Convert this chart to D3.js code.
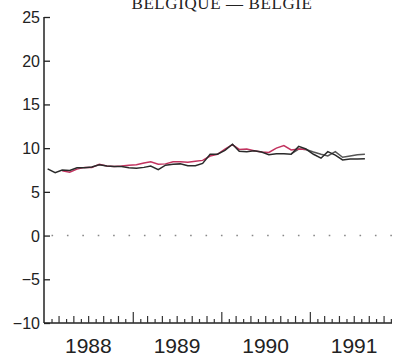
<!DOCTYPE html>
<html><head><meta charset="utf-8">
<script src="https://cdn.jsdelivr.net/npm/d3@7"></script>
<style>body{margin:0;background:#fff}svg{display:block}</style>
</head><body>
<svg id="c" width="398" height="358"></svg>
<script>
const title = "BELGIQUE — BELGIE";
const startYear = 1988, startMonth = 0;
const blackValues = [7.63,7.2,7.5,7.45,7.75,7.75,7.85,8.1,7.95,7.9,7.9,7.75,7.7,7.8,7.95,7.55,8.05,8.15,8.2,8.0,8.0,8.25,9.3,9.3,9.75,10.45,9.65,9.6,9.7,9.55,9.25,9.35,9.35,9.3,10.2,9.9,9.3,8.85,9.6,9.2,8.65,8.75,8.75,8.8];
const redStart = 2;
const redValues = [7.4,7.25,7.6,7.8,7.8,8.15,7.95,7.9,7.95,8.05,8.1,8.3,8.45,8.15,8.2,8.45,8.45,8.4,8.5,8.6,9.1,9.3,9.9,10.4,9.85,9.9,9.7,9.55,9.5,10.0,10.3,9.8,9.9,9.85];
const grayStart = 33;
const grayValues = [9.35,9.9,9.85,9.55,9.3,9.1,9.6,8.95,9.1,9.25,9.3];
const yTicks = [25,20,15,10,5,0,-5,-10];
const yearLabels = [1988,1989,1990,1991];

const svg = d3.select("#c");
const x = d3.scaleTime().domain([new Date(1988,0,1), new Date(1991,11,1)]).range([44, 44+47*7.38]);
const y = d3.scaleLinear().domain([-10,25]).range([323,17]);
const mid = i => new Date(startYear, startMonth+i, 16);

svg.append("text").attr("x",222).attr("y",9).attr("text-anchor","middle")
  .attr("font-family","Liberation Serif").attr("font-size",17).attr("letter-spacing",0.6)
  .attr("fill","#222").text(title);

// zero line dotted
svg.append("line").attr("x1",x(new Date(1988,1,1))).attr("x2",394).attr("y1",y(0)).attr("y2",y(0))
  .attr("stroke","#888").attr("stroke-width",1.6).attr("stroke-dasharray","1.6,13.8");

// y axis
const ya = svg.append("g").attr("transform","translate(44,0)")
  .call(d3.axisRight(y).tickValues(yTicks).tickSize(6).tickFormat(""));
ya.select(".domain").attr("stroke","#222").attr("stroke-width",1.5).attr("d","M0,17V323");
ya.selectAll(".tick line").attr("stroke","#222").attr("stroke-width",1.3);
svg.append("g").selectAll("text").data(yTicks).join("text")
  .attr("x",40).attr("y",d=>y(d)+6).attr("text-anchor","end")
  .attr("font-family","Liberation Sans").attr("font-size",16).attr("fill","#222")
  .text(d=>d<0?"\u2212"+(-d):d);

// x axis
const months = d3.timeMonth.range(new Date(1988,1,1), new Date(1992,0,1));
const xa = svg.append("g").attr("transform","translate(0,323)")
  .call(d3.axisTop(x).tickValues(months).tickFormat("").tickSizeOuter(0));
xa.select(".domain").attr("stroke","#222").attr("stroke-width",1.5).attr("d","M44,0H392");
xa.selectAll(".tick line").attr("stroke","#333").attr("stroke-width",1.2)
  .attr("y2",d=>d.getMonth()===0?-11:(d.getMonth()%2===0?-7:-4));
svg.append("g").selectAll("text").data(yearLabels).join("text")
  .attr("x",d=>(x(new Date(d,0,1))+x(new Date(d+1,0,1)))/2).attr("y",353)
  .attr("text-anchor","middle").attr("font-family","Liberation Sans").attr("font-size",21)
  .attr("fill","#222").text(d=>d);

const line = d3.line().x(d=>x(d[0])).y(d=>y(d[1])).curve(d3.curveLinear);
const blackData = blackValues.map((v,i)=>[mid(i),v]);
const redData = redValues.map((v,i)=>[mid(i+redStart),v]);
const grayData = grayValues.map((v,i)=>[mid(i+grayStart),v]);
svg.append("path").datum(grayData).attr("d",line).attr("fill","none").attr("stroke","#555").attr("stroke-width",1.5);
svg.append("path").datum(redData).attr("d",line).attr("fill","none").attr("stroke","#c2335f").attr("stroke-width",1.5);
svg.append("path").datum(blackData).attr("d",line).attr("fill","none").attr("stroke","#2a2a2a").attr("stroke-width",1.5);
</script>
</body></html>
